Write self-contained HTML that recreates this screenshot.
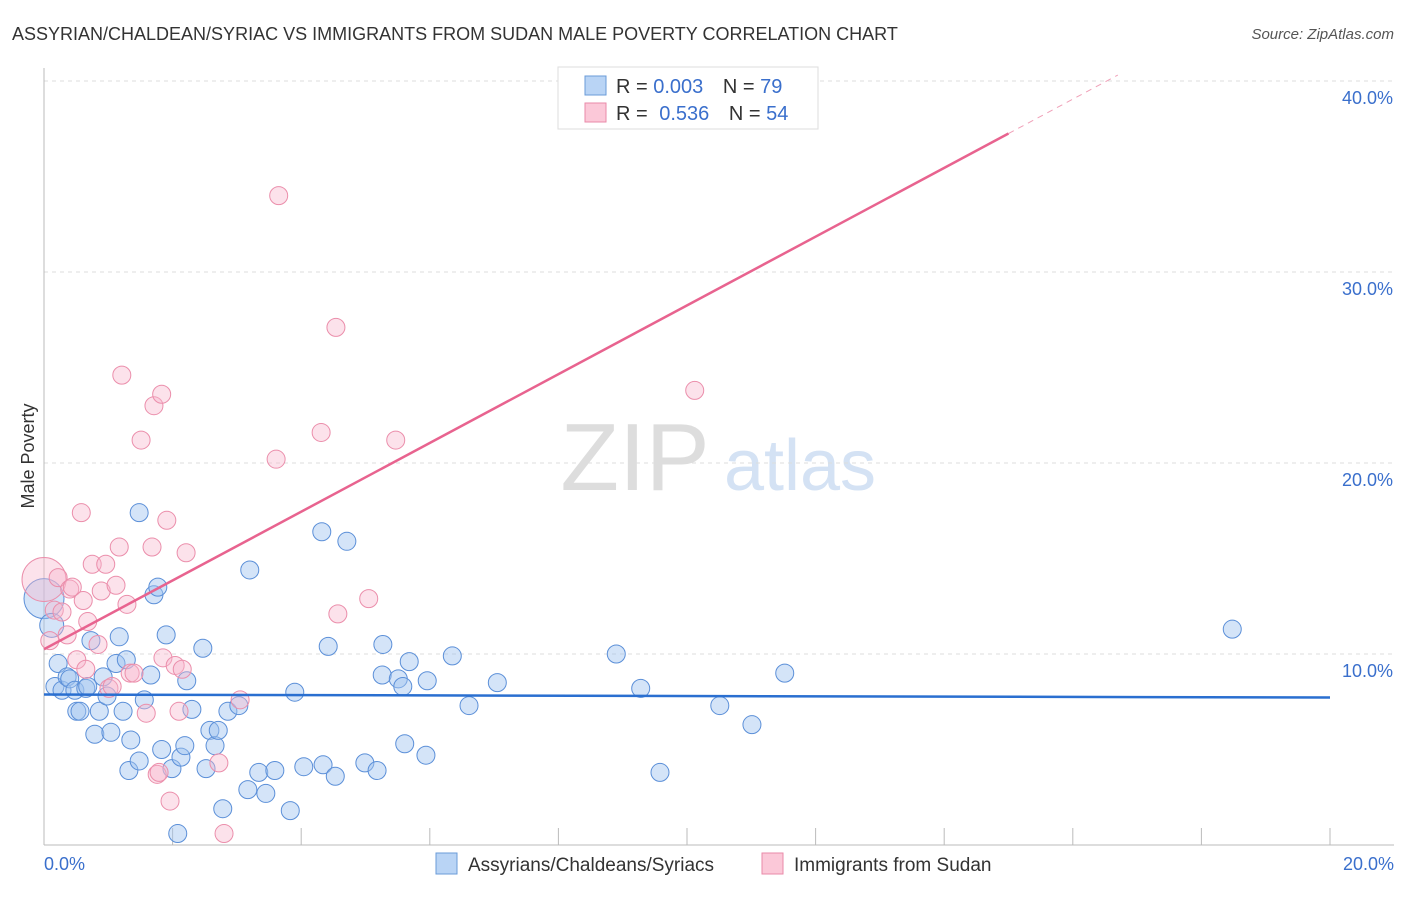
<!DOCTYPE html>
<html><head><meta charset="utf-8"><style>
body{margin:0;background:#fff;font-family:"Liberation Sans",sans-serif;}
svg text{font-family:"Liberation Sans",sans-serif;}
</style></head><body>
<svg id="chart" width="1406" height="892" xmlns="http://www.w3.org/2000/svg">
<text x="12" y="40" font-size="18" fill="#333">ASSYRIAN/CHALDEAN/SYRIAC VS IMMIGRANTS FROM SUDAN MALE POVERTY CORRELATION CHART</text>
<text x="1394" y="39" font-size="15" fill="#555" text-anchor="end" font-style="italic">Source: ZipAtlas.com</text>
<g>
<text x="635" y="490" font-size="96" fill="#ddd" font-family="Liberation Serif" text-anchor="middle">ZIP</text>
<text x="800" y="490" font-size="72" fill="#d4e2f4" text-anchor="middle">atlas</text>
</g>
<g id="grid"></g>
<g id="axes"></g>
<g id="marks"></g>
<g id="lines"></g>
<g>
<rect x="558" y="67" width="260" height="62" fill="#fff" stroke="#ddd"/>
<rect x="585" y="76" width="21" height="19" fill="#b9d4f5" stroke="#6a9bd8"/>
<rect x="585" y="103" width="21" height="19" fill="#fbc8d8" stroke="#e98aa8"/>
<text x="616" y="93" font-size="20" fill="#333">R = <tspan fill="#3a6fcc">0.003</tspan>  <tspan dx="14">N = </tspan><tspan fill="#3a6fcc">79</tspan></text>
<text x="616" y="120" font-size="20" fill="#333">R = <tspan dx="6" fill="#3a6fcc">0.536</tspan>  <tspan dx="14">N = </tspan><tspan fill="#3a6fcc">54</tspan></text>
</g>
<g>
<rect x="436" y="853" width="21" height="21" fill="#b9d4f5" stroke="#6a9bd8"/>
<text x="468" y="871" font-size="19" fill="#333">Assyrians/Chaldeans/Syriacs</text>
<rect x="762" y="853" width="21" height="21" fill="#fbc8d8" stroke="#e98aa8"/>
<text x="794" y="871" font-size="19" fill="#333">Immigrants from Sudan</text>
</g>
<text transform="translate(34,456) rotate(-90)" font-size="18" fill="#333" text-anchor="middle">Male Poverty</text>
</svg>
<script>
const yTicks=[10,20,30,40];
const yTickLabels=["10.0%","20.0%","30.0%","40.0%"];
const xTickCount=10;
const xTickLabels=["0.0%","20.0%"];
const blueX=[0.17,0.22,0.28,0.36,0.40,0.48,0.51,0.56,0.65,0.68,0.73,0.79,0.86,0.92,0.98,1.04,1.12,1.17,1.23,1.28,1.35,1.32,1.48,1.48,1.56,1.66,1.71,1.77,1.83,1.90,1.99,2.08,2.13,2.19,2.22,2.30,2.47,2.52,2.58,2.66,2.71,2.78,2.86,3.03,3.17,3.20,3.34,3.45,3.59,3.83,3.90,4.04,4.32,4.34,4.42,4.53,4.71,4.99,5.18,5.26,5.27,5.51,5.58,5.61,5.68,5.94,5.96,6.35,6.61,7.05,8.90,9.28,9.58,10.51,11.01,11.52,18.48,0.0,0.12];
const blueY=[8.3,9.5,8.1,8.8,8.7,8.1,7.0,7.0,8.2,8.3,10.7,5.8,7.0,8.8,7.8,5.9,9.5,10.9,7.0,9.7,5.5,3.9,4.4,17.4,7.6,8.9,13.1,13.5,5.0,11.0,4.0,0.6,4.6,5.2,8.6,7.1,10.3,4.0,6.0,5.2,6.0,1.9,7.0,7.3,2.9,14.4,3.8,2.7,3.9,1.8,8.0,4.1,16.4,4.2,10.4,3.6,15.9,4.3,3.9,8.9,10.5,8.7,8.3,5.3,9.6,4.7,8.6,9.9,7.3,8.5,10.0,8.2,3.8,7.3,6.3,9.0,11.3,12.9,11.5];
const blueR=[9,9,9,9,9,9,9,9,9,9,9,9,9,9,9,9,9,9,9,9,9,9,9,9,9,9,9,9,9,9,9,9,9,9,9,9,9,9,9,9,9,9,9,9,9,9,9,9,9,9,9,9,9,9,9,9,9,9,9,9,9,9,9,9,9,9,9,9,9,9,9,9,9,9,9,9,9,20,12];
const pinkX=[0.0,0.09,0.16,0.22,0.28,0.36,0.40,0.44,0.51,0.58,0.61,0.65,0.68,0.75,0.84,0.89,0.96,1.01,1.06,1.12,1.17,1.21,1.29,1.34,1.40,1.51,1.59,1.71,1.68,1.76,1.79,1.83,1.85,1.91,1.96,2.04,2.10,2.15,2.21,2.72,2.80,3.05,3.61,3.65,4.31,4.54,4.57,5.05,5.47,10.12,11.77];
const pinkY=[13.9,10.7,12.3,14.0,12.2,11.0,13.4,13.5,9.7,17.4,12.8,9.2,11.7,14.7,10.5,13.3,14.7,8.2,8.3,13.6,15.6,24.6,12.6,9.0,9.0,21.2,6.9,23.0,15.6,3.7,3.8,23.6,9.8,17.0,2.3,9.4,7.0,9.2,15.3,4.3,0.6,7.6,20.2,34.0,21.6,27.1,12.1,12.9,21.2,23.8,38.4];
const pinkR=[22,9,9,9,9,9,9,9,9,9,9,9,9,9,9,9,9,9,9,9,9,9,9,9,9,9,9,9,9,9,9,9,9,9,9,9,9,9,9,9,9,9,9,9,9,9,9,9,9,9,9];
const blueLine=[7.88,-0.008];
const pinkLine=[10.25,1.80];
const X0=44,X1=1330,Y0=845,PX=19.1;
const sx=v=>X0+v/20*(X1-X0), sy=v=>Y0-v*PX;
const NS="http://www.w3.org/2000/svg";
function mk(tag,attrs,parent){const e=document.createElementNS(NS,tag);for(const k in attrs)e.setAttribute(k,attrs[k]);document.getElementById(parent).appendChild(e);return e;}
yTicks.forEach((t,i)=>{
 const g=mk('line',{x1:X0,x2:1394,y1:sy(t),y2:sy(t),stroke:'#ddd','stroke-dasharray':'4,4'},'grid');
 
 
 const l=mk('text',{x:1393,y:sy(t)+23,'font-size':18,fill:'#3a6fcc','text-anchor':'end'},'axes');
 l.textContent=yTickLabels[i];
 
 
});
const ax=mk('line',{x1:X0,x2:1394,y1:Y0,y2:Y0,stroke:'#bbb'},'axes');


const ay=mk('line',{x1:X0,x2:X0,y1:68,y2:Y0,stroke:'#bbb'},'axes');


for(let i=1;i<=xTickCount;i++){const x=sx(i*20/xTickCount);const t=mk('line',{x1:x,x2:x,y1:Y0-17,y2:Y0,stroke:'#bbb'},'axes');
 
 }
[[0,'start',X0],[1,'end',1394]].forEach(([i,a,x])=>{const l=mk('text',{x:x,y:870,'font-size':18,fill:'#3a6fcc','text-anchor':a},'axes');l.textContent=xTickLabels[i];
 
 });
blueX.forEach((v,i)=>{const c=mk('circle',{cx:sx(v),cy:sy(blueY[i]),r:blueR[i],fill:'rgba(160,196,240,0.45)',stroke:'#5b8fd8','stroke-width':1},'marks');
 
 });
pinkX.forEach((v,i)=>{const c=mk('circle',{cx:sx(v),cy:sy(pinkY[i]),r:pinkR[i],fill:'rgba(248,182,204,0.4)',stroke:'#eb8eab','stroke-width':1},'marks');
 
 });
const bl=mk('line',{x1:sx(0),y1:sy(blueLine[0]),x2:sx(20),y2:sy(blueLine[0]+blueLine[1]*20),stroke:'#2a6fd0','stroke-width':2.5},'lines');


const xe=15.0, xd=16.7;
const pl=mk('line',{x1:sx(0),y1:sy(pinkLine[0]),x2:sx(xe),y2:sy(pinkLine[0]+pinkLine[1]*xe),stroke:'#e8638f','stroke-width':2.5},'lines');


const pd=mk('line',{x1:sx(xe),y1:sy(pinkLine[0]+pinkLine[1]*xe),x2:sx(xd),y2:sy(pinkLine[0]+pinkLine[1]*xd),stroke:'#f0a0b8','stroke-width':1,'stroke-dasharray':'6,5'},'lines');


</script>
</body></html>
